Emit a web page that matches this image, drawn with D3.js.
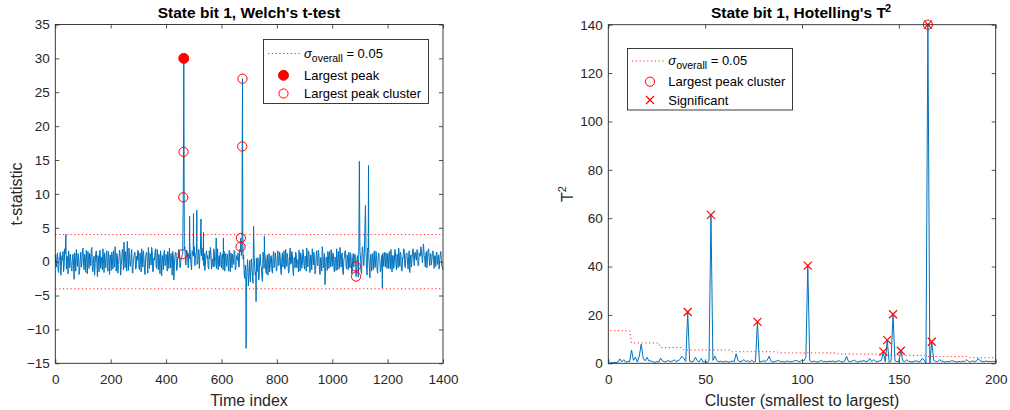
<!DOCTYPE html>
<html><head><meta charset="utf-8">
<script src="https://cdn.jsdelivr.net/npm/d3@7"></script>
<style>
body{margin:0;background:#fff}
svg{display:block}
text{font-family:"Liberation Sans",Arial,Helvetica,sans-serif}
</style>
</head><body>
<svg id="c" width="1010" height="410"></svg>
<script>
// ---------- Left panel data: Welch's t-test ----------
const tStep = 4; // sample spacing of each noise array
// samples at index 4k
const tNoise = [
 1.0,-0.8,1.3,-1.6,0.4,-2.0,0.9,1.5,-0.5,1.2,-1.1,0.7,1.6,-0.9,0.2,-1.4,1.1,-2.6,0.5,1.8,-0.7,0.9,-1.3,1.4,-0.2,
 2.0,-1.2,0.6,1.7,-1.8,0.3,1.2,-0.6,2.1,-1.5,0.8,-0.3,1.6,-2.2,0.4,1.3,-1.0,0.7,1.9,-1.6,0.2,1.0,-0.8,1.5,-1.9,
 0.6,1.4,-1.1,0.3,2.2,-1.4,0.9,-0.4,1.7,-2.0,0.5,1.1,2.9,-0.9,0.4,3.0,-1.3,1.2,-0.5,1.8,-1.7,0.7,1.3,-1.0,0.2,
 1.5,-1.2,0.4,1.9,-0.8,0.6,-1.9,1.2,0.1,2.1,-1.0,0.8,2.1,-1.5,0.5,1.4,-0.7,1.8,-1.2,0.3,1.6,-2.1,0.9,1.2,-0.6,
 1.1,-1.4,0.7,2.0,-0.9,0.4,1.5,-2.7,0.8,1.3,-1.1,0.5,1.7,-0.8,0.6,1.2,30.0,2.2,-0.5,1.4,-0.9,0.4,0.8,-1.2,1.5,
 1.0,-0.6,1.3,-0.4,0.9,-1.0,1.8,0.9,0.2,-0.6,-1.3,1.0,0.5,-0.8,1.6,2.1,-1.1,0.4,1.9,-0.7,0.7,-0.3,-1.2,0.9,1.4,
 -0.9,1.1,0.6,-1.4,1.2,0.3,-0.6,1.7,-1.5,0.8,1.1,-0.4,1.6,-1.0,0.7,1.3,-0.8,1.5,0.9,27.0,1.0,-2.5,-1.2,-1.6,-1.0,
 -1.8,-3.0,0.4,-2.2,5.2,-0.9,-1.5,-1.5,0.6,-2.4,1.1,-0.7,-2.9,0.8,1.2,-1.3,0.5,-2.0,1.2,-0.6,0.9,-1.7,1.5,-0.4,0.7,
 -1.2,1.6,-0.5,0.8,-1.9,1.3,0.2,-1.0,1.8,-0.7,0.4,-1.5,2.0,-0.3,1.1,-2.1,0.6,1.4,-0.9,0.3,1.7,-1.4,0.8,-0.2,1.2,
 -1.1,0.5,2.0,-0.8,1.3,-1.6,0.7,1.9,-0.5,0.2,-1.3,1.6,-0.6,1.0,-1.9,0.4,2.2,-0.9,1.2,-0.9,0.6,1.5,-1.0,0.3,1.8,
 -0.7,1.1,-1.5,0.6,1.9,-1.2,0.4,2.1,-0.8,1.3,-1.9,0.7,1.6,-1.1,0.2,1.4,-0.9,0.8,-1.6,1.2,0.5,0.4,-1.0,0.9,1.6,
 1.5,-1.4,1.9,0.5,1.2,8.3,-1.0,2.0,0.8,-2.4,1.1,0.3,-1.2,1.6,-0.5,0.9,-1.7,1.3,0.2,-1.1,-1.0,0.7,1.4,-0.8,0.6,
 1.2,-1.0,0.4,1.8,-1.5,0.9,-0.3,1.5,-1.2,0.6,2.0,-0.7,1.1,-1.4,0.5,1.7,-0.9,1.3,-0.2,0.8,-1.6,1.0,0.3,1.9,-0.6,
 1.4,0.2,1.7,-0.5,1.2,2.2,0.6,1.4,0.9,-0.8,1.5,0.4,1.9,-0.6,1.1,0.3,1.6,-1.0,0.8,1.3,-0.4,1.0,0.2,1.5,-0.7,-1.2
];
// samples at index 4k+2
const tNoiseMid = [
 -0.3,0.9,-1.2,0.6,1.4,-0.7,0.2,-1.5,1.9,-0.4,0.8,-1.8,0.5,1.1,-1.0,0.7,-0.6,1.3,-1.4,0.4,1.2,-1.9,0.3,-0.8,1.6,
 -0.5,1.1,-1.6,0.2,1.5,-1.0,0.8,1.8,-1.3,0.4,-2.0,1.2,-0.2,0.9,-1.5,1.7,0.1,-1.2,0.6,1.3,-0.9,1.6,-1.4,0.3,1.0,
 -1.3,0.5,1.6,-0.8,0.9,1.2,-1.7,0.4,1.1,-0.6,1.8,-1.2,0.7,1.5,-1.4,0.6,2.0,-0.7,1.0,-1.6,0.3,1.4,-1.1,0.8,1.7,
 -0.9,1.3,-1.5,0.7,1.6,-1.1,0.5,1.4,-1.7,0.9,1.2,-0.5,1.5,-1.3,0.2,1.9,-1.0,0.6,1.1,-1.8,0.8,0.4,-1.2,1.7,-0.3,
 0.6,1.5,-1.0,0.3,1.2,-2.0,0.9,-0.6,1.4,-1.3,0.7,1.8,-0.9,0.5,1.0,0.4,1.9,-0.3,1.7,0.6,1.2,2.3,-0.4,1.6,0.8,
 2.2,0.5,1.4,-0.2,1.8,0.7,-0.9,2.0,0.3,1.2,-0.5,1.6,0.9,-1.1,0.4,1.3,0.2,-0.8,1.5,0.6,-1.0,1.9,0.5,-0.7,1.1,
 0.4,-1.2,1.5,0.8,-0.7,1.1,-1.4,0.6,1.3,-0.9,0.5,1.7,-1.2,0.9,0.2,-0.6,1.8,0.7,1.2,0.4,-1.8,-0.5,-3.0,0.3,-2.6,
 0.2,-1.6,-0.8,-3.2,0.9,-2.0,0.5,-1.1,-2.7,0.3,-0.6,-2.2,1.4,-1.0,0.7,-1.8,1.0,-0.4,-1.5,0.8,-1.2,0.6,-0.9,1.3,-1.4,
 0.9,-0.6,1.4,-1.3,0.5,-0.8,1.6,-1.1,0.3,1.2,-1.7,0.8,-0.4,1.5,-1.2,0.6,-0.9,1.1,0.2,-1.5,0.7,1.3,-1.0,1.8,-0.5,
 0.8,-1.4,0.3,1.6,-0.7,1.0,-1.2,0.5,1.4,-1.8,0.9,-0.3,1.7,-1.1,0.6,-1.4,1.2,0.4,-2.0,0.7,-1.3,0.9,1.5,-0.8,0.2,
 1.3,-0.9,0.7,-1.3,0.4,1.5,-1.0,0.8,1.1,-1.5,0.3,1.6,-0.6,1.0,-1.2,0.5,1.3,-1.8,0.6,-0.8,1.1,-1.5,0.7,-2.3,2.0,
 0.9,-1.8,2.2,-0.6,3.5,1.4,-2.0,1.6,-0.8,0.9,-1.4,1.2,0.4,-0.9,1.5,-1.2,0.6,0.3,-1.5,0.9,1.2,-0.7,0.5,1.3,-1.0,
 0.7,1.5,-1.1,0.6,0.9,-1.0,1.8,-0.4,1.1,-0.9,0.8,1.4,-1.3,0.6,1.9,-0.5,0.9,1.2,-1.1,1.6,0.4,-0.8,1.4,0.7,1.2,
 0.5,1.8,-0.6,1.3,0.8,1.6,-0.2,2.4,0.4,1.1,-0.9,1.7,0.6,1.2,-0.5,1.5,0.3,0.9,-0.7,1.4,0.6,-1.1,1.0,0.2,-0.8
];
const tSpikeIdx = [38,460,462,463,464,485,499,511,526,535,581,607,669,670,675,676,677,689,697,716,725,755,974,1085,1086,1098,1118,1120,1131,1181,1329];
const tSpikeVal = [4.0,1.1,9.5,16.2,30.0,6.7,7.1,7.6,6.3,4.3,3.5,3.5,2.2,3.5,17.0,27.0,5.2,-12.8,-3.6,5.2,-5.9,3.8,-3.4,-0.7,-2.2,14.8,4.8,8.3,14.2,-3.9,2.6];
const tThreshold = 4.0;
const tPeakIdx = [464], tPeakVal = [30.0];
const tClusterIdx = [460,462,463,669,670,675,676,1085,1086];
const tClusterVal = [1.1,9.5,16.2,2.2,3.5,17.0,27.0,-0.7,-2.2];
const tXTicks = [0,200,400,600,800,1000,1200,1400];
const tYTicks = [-15,-10,-5,0,5,10,15,20,25,30,35];

// ---------- Right panel data: Hotelling's T^2 ----------
const hValues = [
 0.3,0.2,0.4,0.3,0.5,1.8,0.6,1.5,0.4,0.8,
 0.6,5.5,1.2,2.5,0.5,3.0,7.9,2.2,1.0,2.5,
 0.9,1.0,0.6,0.4,0.7,0.5,2.1,1.0,0.6,0.8,
 1.1,0.7,0.9,1.4,0.8,1.0,1.6,2.9,2.0,0.8,
 21.2,0.9,0.6,0.8,2.5,1.0,0.6,2.0,0.5,0.7,
 0.4,1.0,61.4,1.2,3.0,1.1,0.6,0.9,0.5,0.8,
 0.8,0.5,0.6,0.9,0.7,3.9,1.2,0.6,0.9,1.5,
 0.7,1.1,0.5,1.3,0.6,0.8,17.1,0.5,0.7,1.0,
 0.8,1.2,2.9,0.9,0.5,0.7,1.0,1.2,0.6,0.8,
 0.5,0.9,0.8,0.6,0.7,1.0,1.2,0.8,0.6,1.5,
 1.0,2.5,40.4,1.1,0.6,0.9,0.7,0.5,0.8,1.2,
 0.6,0.8,0.5,0.9,0.7,1.0,0.6,0.8,1.1,0.7,
 0.5,0.9,2.9,0.8,0.6,1.0,1.3,0.7,0.5,0.9,
 0.8,1.2,0.6,0.9,2.0,0.7,1.5,0.8,0.6,1.0,
 1.2,4.8,0.6,9.6,0.4,1.0,20.3,1.0,0.7,0.8,
 5.2,1.0,0.6,1.5,0.8,0.7,0.5,0.9,1.0,0.7,
 0.6,2.0,1.5,0.0,140.0,0.2,8.9,1.2,0.8,0.6,
 1.5,0.9,0.7,0.5,0.8,0.6,1.0,1.0,0.7,0.5,
 0.8,0.6,0.9,0.7,1.5,0.8,0.6,1.0,0.7,0.9,
 2.0,1.0,0.8,0.6,1.0,0.7,0.8,0.6,0.9,0.5
];
const hThrEnd = [11,26,38,63,87,118,141,163,186,200];
const hThrVal = [13.5,8.4,6.5,5.5,4.8,4.3,3.8,3.3,2.8,2.3];
const hSignificant = [41,53,77,103,142,144,147,151,165,167];
const hLargestCluster = [165];
const hXTicks = [0,50,100,150,200];
const hYTicks = [0,20,40,60,80,100,120,140];

// ---------- drawing ----------
const svg = d3.select('#c');
const BLUE = '#0072BD', RED = '#ff0000', AX = '#262626';
const TICKFS = 13.5, LABFS = 16, TITFS = 15.5, LEGFS = 13;

function drawAxes(g, x, y, xt, yt) {
  const [xa, xb] = x.range(), [yb, ya] = y.range();
  const styleAxis = sel => {
    sel.selectAll('path.domain').remove();
    sel.selectAll('line').attr('stroke', AX).attr('stroke-width', 0.8);
    sel.selectAll('text').attr('fill', AX).style('font-size', TICKFS + 'px').attr('font-family', null);
  };
  g.append('g').attr('transform', `translate(0,${yb})`)
    .call(d3.axisBottom(x).tickValues(xt).tickSizeInner(-4).tickSizeOuter(0).tickPadding(11).tickFormat(d3.format('d')))
    .call(styleAxis);
  g.append('g').attr('transform', `translate(0,${ya})`)
    .call(d3.axisTop(x).tickValues(xt).tickSizeInner(-4).tickSizeOuter(0).tickFormat(''))
    .call(styleAxis);
  g.append('g').attr('transform', `translate(${xa},0)`)
    .call(d3.axisLeft(y).tickValues(yt).tickSizeInner(-4).tickSizeOuter(0).tickPadding(5.5).tickFormat(d3.format('d')))
    .call(styleAxis);
  g.append('g').attr('transform', `translate(${xb},0)`)
    .call(d3.axisRight(y).tickValues(yt).tickSizeInner(-4).tickSizeOuter(0).tickFormat(''))
    .call(styleAxis);
  g.append('rect').attr('x', xa).attr('y', ya).attr('width', xb - xa).attr('height', yb - ya)
    .attr('fill', 'none').attr('stroke', AX).attr('stroke-width', 0.9);
}

function circle(g, cx, cy, filled) {
  g.append('circle').attr('cx', cx).attr('cy', cy).attr('r', filled ? 5 : 4.6)
    .attr('fill', filled ? RED : 'none').attr('stroke', RED).attr('stroke-width', 1);
}
function cross(g, cx, cy) {
  const s = 4;
  g.append('path').attr('d', `M${cx - s},${cy - s}L${cx + s},${cy + s}M${cx - s},${cy + s}L${cx + s},${cy - s}`)
    .attr('stroke', RED).attr('stroke-width', 1.2).attr('fill', 'none');
}
function dotted(g, d) {
  return g.append('path').attr('d', d).attr('fill', 'none').attr('stroke', RED)
    .attr('stroke-width', 1).attr('stroke-dasharray', '1.2,2.6').attr('opacity', 0.85);
}
function sigmaText(g, x, y) {
  const t = g.append('text').attr('x', x).attr('y', y).attr('fill', '#000').style('font-size', LEGFS + 'px');
  t.append('tspan').text('σ').style('font-style', 'italic');
  t.append('tspan').text('overall').style('font-size', '10.5px').attr('dy', 4);
  t.append('tspan').text(' = 0.05').attr('dy', -4);
}
function legendBox(g, x, y, w, h) {
  g.append('rect').attr('x', x).attr('y', y).attr('width', w).attr('height', h)
    .attr('fill', '#fff').attr('stroke', AX).attr('stroke-width', 0.9);
}
function legText(g, x, y, s) {
  g.append('text').attr('x', x).attr('y', y).attr('dy', '0.35em').attr('fill', '#000')
    .style('font-size', LEGFS + 'px').text(s);
}

// ----- Left panel -----
{
  const g = svg.append('g');
  const x = d3.scaleLinear().domain([0, 1400]).range([55.3, 443]);
  const y = d3.scaleLinear().domain([-15, 35]).range([363.3, 24.5]);

  const pts = new Map();
  tNoise.forEach((v, k) => pts.set(k * tStep, v));
  tNoiseMid.forEach((v, k) => pts.set(k * tStep + tStep / 2, v));
  tSpikeIdx.forEach((t, i) => pts.set(t, tSpikeVal[i]));
  const series = Array.from(pts, ([t, v]) => ({ t, v })).sort((a, b) => a.t - b.t);

  g.append('path').datum(series)
    .attr('d', d3.line().x(d => x(d.t)).y(d => y(d.v)))
    .attr('fill', 'none').attr('stroke', BLUE).attr('stroke-width', 1).attr('stroke-linejoin', 'round');

  [tThreshold, -tThreshold].forEach(v => dotted(g, `M${x(0)},${y(v)}H${x(1400)}`));

  tClusterIdx.forEach((t, i) => circle(g, x(t), y(tClusterVal[i]), false));
  tPeakIdx.forEach((t, i) => circle(g, x(t), y(tPeakVal[i]), true));

  drawAxes(g, x, y, tXTicks, tYTicks);

  g.append('text').attr('x', 249).attr('y', 18.3).attr('text-anchor', 'middle').attr('fill', '#000')
    .style('font-size', TITFS + 'px').style('font-weight', 'bold').text("State bit 1, Welch's t-test");
  g.append('text').attr('x', 249).attr('y', 405.5).attr('text-anchor', 'middle').attr('fill', AX)
    .style('font-size', LABFS + 'px').text('Time index');
  g.append('text').attr('transform', 'translate(21.5,194) rotate(-90)').attr('text-anchor', 'middle').attr('fill', AX)
    .style('font-size', LABFS + 'px').text('t-statistic');

  // legend
  const L = { x: 263.5, y: 39.5, w: 165, h: 64 };
  legendBox(g, L.x, L.y, L.w, L.h);
  dotted(g, `M${L.x + 4.5},${L.y + 14}H${L.x + 38.5}`);
  sigmaText(g, L.x + 40.5, L.y + 18.3);
  circle(g, L.x + 20, L.y + 35.8, true);
  legText(g, L.x + 40.5, L.y + 35.8, 'Largest peak');
  circle(g, L.x + 20, L.y + 54, false);
  legText(g, L.x + 40.5, L.y + 54, 'Largest peak cluster');
}

// ----- Right panel -----
{
  const g = svg.append('g');
  const x = d3.scaleLinear().domain([0, 200]).range([608.3, 995.7]);
  const y = d3.scaleLinear().domain([0, 140]).range([363.3, 24.7]);
  const data = hValues.map((v, i) => ({ c: i + 1, v }));

  const thr = [];
  let start = 1;
  hThrEnd.forEach((e, i) => { for (let c = start; c <= e; c++) thr.push({ c, v: hThrVal[i] }); start = e + 1; });
  dotted(g, d3.line().x(d => x(d.c)).y(d => y(d.v))(thr));

  g.append('path').datum(data)
    .attr('d', d3.line().x(d => x(d.c)).y(d => y(d.v)))
    .attr('fill', 'none').attr('stroke', BLUE).attr('stroke-width', 1).attr('stroke-linejoin', 'round');

  hLargestCluster.forEach(c => circle(g, x(c), y(hValues[c - 1]), false));
  hSignificant.forEach(c => cross(g, x(c), y(hValues[c - 1])));

  drawAxes(g, x, y, hXTicks, hYTicks);

  const tt = g.append('text').attr('x', 801).attr('y', 18.3).attr('text-anchor', 'middle').attr('fill', '#000')
    .style('font-size', TITFS + 'px').style('font-weight', 'bold');
  tt.append('tspan').text("State bit 1, Hotelling's T");
  tt.append('tspan').text('2').style('font-size', '11px').attr('dx', -1).attr('dy', -6);
  g.append('text').attr('x', 802).attr('y', 405.5).attr('text-anchor', 'middle').attr('fill', AX)
    .style('font-size', LABFS + 'px').text('Cluster (smallest to largest)');
  const yl = g.append('text').attr('transform', 'translate(573.3,194) rotate(-90)').attr('text-anchor', 'middle').attr('fill', AX)
    .style('font-size', LABFS + 'px');
  yl.append('tspan').text('T');
  yl.append('tspan').text('2').style('font-size', '11px').attr('dy', -7);

  const L = { x: 627.5, y: 48.5, w: 165, h: 61.5 };
  legendBox(g, L.x, L.y, L.w, L.h);
  dotted(g, `M${L.x + 4.5},${L.y + 12.5}H${L.x + 36}`);
  sigmaText(g, L.x + 40.8, L.y + 16.8);
  circle(g, L.x + 22.5, L.y + 33.2, false);
  legText(g, L.x + 40.8, L.y + 33.2, 'Largest peak cluster');
  cross(g, L.x + 22.5, L.y + 51.5);
  legText(g, L.x + 40.8, L.y + 51.5, 'Significant');
}
</script>
</body></html>
